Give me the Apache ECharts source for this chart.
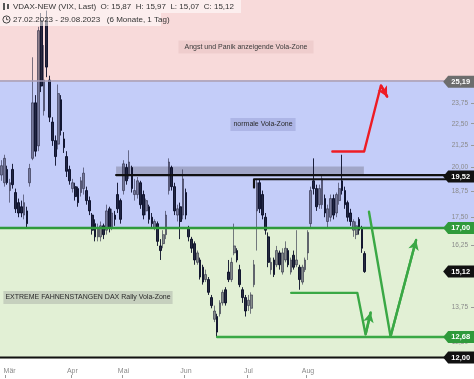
<!DOCTYPE html>
<html><head><meta charset="utf-8">
<script src="https://cdn.jsdelivr.net/npm/echarts@6/dist/echarts.min.js"></script>
<style>html,body{margin:0;padding:0;background:#fff}#c{width:474px;height:379px}</style>
</head><body><div id="c"></div>
<script>
// ---------- data ----------
const startDate = '2023-02-27';
const holidays = ['2023-04-07', '2023-04-10', '2023-05-01'];
const slotCount = 167;               // trading-day slots incl. empty future space
const monthNames = ['Jan','Feb','Mär','Apr','Mai','Jun','Jul','Aug','Sep','Okt','Nov','Dez'];

// [open, close, low, high]
const ohlc = [
 [19.6,20.1,19.3,20.4],[19.2,20.5,19.0,20.7],[19.9,19.2,19.1,20.1],[18.8,19.2,18.2,19.4],
 [19.9,19.1,18.9,20.2],[18.7,17.9,17.7,18.9],[18.2,17.7,17.5,18.4],[18.0,17.7,17.5,18.3],
 [17.6,18.2,17.4,18.6],[17.8,17.2,17.0,18.0],[19.2,19.95,19.0,20.2],[20.5,23.8,20.4,26.9],
 [23.8,20.9,20.6,24.3],[21.2,28.9,20.9,29.2],[29.7,24.9,24.5,30.3],[23.3,25.3,23.0,27.8],
 [29.7,26.2,25.5,30.5],[25.3,22.9,22.6,25.6],[22.6,21.5,21.2,22.9],[21.5,20.6,20.1,21.8],
 [21.3,24.4,21.0,25.0],[24.0,22.1,21.8,24.3],[21.6,21.1,20.8,22.0],[20.6,19.8,19.5,20.9],
 [19.9,19.3,19.1,20.1],[18.9,19.2,18.7,19.4],[19.0,18.5,18.3,19.2],[18.9,18.2,18.0,19.0],
 [18.7,19.3,18.5,19.5],[18.9,19.7,18.6,20.0],[18.8,18.3,18.1,19.0],[18.3,17.8,17.6,18.5],
 [17.6,16.9,16.7,17.7],[17.2,16.6,16.4,17.4],[16.6,17.0,16.4,17.2],[16.6,17.1,16.4,17.3],
 [17.1,16.7,16.5,17.2],[16.9,17.8,16.7,18.1],[17.9,17.0,16.8,18.0],[17.0,17.7,16.9,17.9],
 [17.6,17.4,17.1,17.8],[18.6,17.9,17.7,19.2],[18.3,17.4,17.2,18.4],[18.8,20.2,18.6,20.4],
 [20.0,19.3,19.1,20.2],[19.6,20.3,19.4,20.95],[20.0,18.9,18.7,20.1],[18.6,18.8,18.3,19.4],
 [18.6,19.3,18.4,19.5],[19.2,18.1,17.9,19.3],[18.6,17.6,17.4,18.8],[17.8,18.3,17.6,18.4],
 [18.0,17.4,17.2,18.1],[17.5,17.2,17.0,17.7],[17.0,17.3,16.9,17.4],[17.2,16.4,16.2,17.3],
 [16.2,16.0,15.6,16.5],[16.3,16.7,16.1,16.9],[16.7,17.6,16.5,17.8],[18.8,20.3,18.6,20.5],
 [20.0,19.0,18.8,20.1],[19.0,17.8,17.6,19.2],[17.6,17.9,17.3,18.1],[18.0,17.3,16.5,18.2],
 [17.6,19.4,17.4,19.9],[18.7,17.6,17.4,18.9],[17.0,16.6,16.4,17.1],[16.5,16.1,15.9,16.6],
 [16.3,15.6,15.4,16.4],[15.5,15.9,15.4,16.0],[15.6,14.9,14.8,15.7],[15.3,14.7,14.6,15.4],
 [14.8,15.0,14.7,15.2],[14.8,14.3,14.2,14.9],[14.1,13.8,13.7,14.2],[13.3,13.6,13.2,13.8],
 [13.4,12.85,12.68,13.5],[13.5,13.9,13.4,14.0],[13.9,14.3,13.8,14.4],[14.4,13.9,13.8,14.5],
 [15.1,14.8,14.7,15.6],[14.8,15.5,14.7,15.7],[15.9,16.2,15.8,17.2],[16.0,15.6,15.5,16.1],
 [15.2,14.6,14.5,15.4],[14.4,14.1,13.9,14.5],[14.1,13.6,13.4,14.2],[13.8,14.0,13.6,14.2],
 [13.7,14.2,13.5,14.3],[14.6,15.4,14.5,15.6],[17.8,19.2,16.0,19.4],[19.2,17.9,17.7,19.4],
 [18.6,17.6,17.4,18.8],[17.5,16.9,16.7,17.7],[16.6,15.5,15.3,16.8],[15.2,15.5,15.0,15.7],
 [15.6,15.0,14.9,15.7],[15.4,16.0,15.3,16.2],[15.9,15.4,15.2,16.0],[15.1,15.9,15.0,16.1],
 [15.6,16.1,15.5,16.4],[16.0,15.4,15.3,16.1],[15.1,15.6,15.0,15.7],[15.8,15.3,15.2,16.0],
 [15.4,15.6,15.3,16.9],[15.3,14.8,14.4,15.4],[14.7,15.3,14.6,15.4],[15.2,15.6,15.1,15.7],
 [15.9,16.8,15.6,16.9],[17.2,18.8,17.0,19.0],[19.3,18.9,18.6,20.5],[18.9,18.0,17.8,19.1],
 [18.1,18.9,17.9,19.1],[18.1,19.4,17.9,19.6],[18.4,17.7,17.5,18.6],[17.3,17.9,17.0,18.1],
 [17.5,18.4,17.3,18.6],[18.4,17.6,17.4,18.6],[17.7,18.6,17.5,18.7],[18.3,18.9,18.1,19.2],
 [19.3,18.8,18.6,20.7],[18.8,18.1,17.9,19.0],[18.2,17.5,17.3,18.3],[17.7,17.3,17.1,17.9],
 [16.9,17.3,16.6,17.4],[16.7,17.1,16.5,17.3],[17.4,16.9,16.7,17.5],[17.0,16.1,15.9,17.1],
 [15.87,15.12,15.07,15.97]
];

// log-scaled value axis range and tick labels
const yMin = 11.97, yMax = 31.38;
const yTicks = [12.5, 13.75, 16.25, 17.5, 18.75, 20, 21.25, 22.5, 23.75];

// zones
const panicFloor = 25.19;
const normalFloor = 17.0;
const grayBand = [[40.4, 19.60], [127.7, 20.05]];

// annotation paths: [slot index, value]
const blackLineA = [[40.4, 19.60], [166.5, 19.60]];
const blackLineB = [[89.0, 18.95], [89.0, 19.38], [166.5, 19.38]];
const blackLine12 = [[-0.5, 12.0], [166.5, 12.0]];
const greenLine17 = [[-0.5, 17.0], [166.5, 17.0]];
const greenLine1268 = [[76.0, 12.68], [166.5, 12.68]];
const greenSmallPath = [[102.1, 14.28], [125.4, 14.28], [128.3, 12.77], [130.1, 13.55]];
const greenVPath = [[129.5, 17.76], [137.1, 12.70], [146.1, 16.46]];
const redPath = [[116.6, 20.88], [127.8, 20.88], [133.7, 24.94], [135.9, 24.2]];

// price tags on the right
const tagValues = [25.19, 19.52, 17.00, 15.12, 12.68, 12.00];
const tagColors = ['#6d6d6d', '#111111', '#2f9a3b', '#111111', '#2f9a3b', '#111111'];

// ---------- build ----------
const L = Math.log;
const fmt = v => v.toFixed(2).replace('.', ',');

function tradingDays(start, count, skip) {
  const out = [];
  const d = new Date(start + 'T12:00:00Z');
  while (out.length < count) {
    const wd = d.getUTCDay();
    const iso = d.toISOString().slice(0, 10);
    if (wd !== 0 && wd !== 6 && skip.indexOf(iso) < 0) out.push(iso);
    d.setUTCDate(d.getUTCDate() + 1);
  }
  return out;
}
const dates = tradingDays(startDate, slotCount, holidays);
const monthStart = dates.map((d, i) => i > 0 && i < ohlc.length && d.slice(5, 7) !== dates[i - 1].slice(5, 7));
const firstMonthIdx = monthStart.indexOf(true);

const candleData = ohlc.map(r => r.map(v => L(v)));

function pathSeries(name, pts, color, width, arrow) {
  const d = pts.map(p => [p[0], L(p[1])]);
  const s = {
    type: 'line', name, xAxisIndex: 1, yAxisIndex: 0, data: d, symbol: 'none',
    silent: true, z: 4, animation: false, clip: false,
    lineStyle: { color, width, cap: 'round', join: 'round' }
  };
  if (arrow) {
    const a = d[d.length - 2], b = d[d.length - 1];
    s.markLine = {
      silent: true, animation: false, symbol: ['none', 'arrow'], symbolSize: [8, 10],
      label: { show: false }, lineStyle: { color, width, type: 'solid' },
      data: [[{ coord: a }, { coord: b }]]
    };
  }
  return s;
}

const last = ohlc[ohlc.length - 1];
const headerLine1 = 'VDAX-NEW (VIX, Last)  O: ' + fmt(last[0]) + '  H: ' + fmt(last[3]) +
  '  L: ' + fmt(last[2]) + '  C: ' + fmt(last[1]);
const fmtDate = s => s.slice(8, 10) + '.' + s.slice(5, 7) + '.' + s.slice(0, 4);
const headerLine2 = fmtDate(dates[0]) + ' - ' + fmtDate(dates[ohlc.length - 1]) + '   (6 Monate, 1 Tag)';

const FONT = '"Liberation Sans", Arial, sans-serif';
const chart = echarts.init(document.getElementById('c'), null, { renderer: 'canvas' });
chart.setOption({
  animation: false,
  backgroundColor: '#ffffff',
  grid: { left: -4, right: 0, top: 0, bottom: 20.5 },
  xAxis: [
    {
      type: 'category', data: dates, boundaryGap: true,
      axisLine: { show: false, onZero: false }, axisTick: { show: false }, splitLine: { show: false },
      axisLabel: {
        interval: (i) => monthStart[i], margin: 9, color: '#8a8a8a', fontSize: 7, fontFamily: FONT,
        formatter: (v, i) => {
          const name = monthNames[parseInt(v.slice(5, 7), 10) - 1];
          return i === firstMonthIdx ? '{f|' + name + '}' : name;
        },
        rich: { f: { padding: [0, 0, 0, 5], fontSize: 7, color: '#8a8a8a', fontFamily: FONT } }
      }
    },
    {
      type: 'value', min: -0.5, max: slotCount - 0.5, show: false
    },
    {
      type: 'category', data: dates, boundaryGap: true, offset: 16.5, position: 'bottom',
      axisLine: { show: false, onZero: false }, axisLabel: { show: false }, splitLine: { show: false },
      axisTick: { show: true, length: 3, interval: (i) => monthStart[i], lineStyle: { color: '#9a9a9a' } }
    }
  ],
  yAxis: {
    type: 'value', position: 'right', min: L(yMin), max: L(yMax), z: 3,
    splitLine: { show: false }, axisLine: { show: false, onZero: false },
    axisTick: { show: true, inside: true, length: 3, customValues: yTicks.map(L), lineStyle: { color: '#9a9a9a' } },
    axisLabel: {
      inside: true, margin: 6, customValues: yTicks.map(L), color: '#8a8a8a', fontSize: 6.5, fontFamily: FONT,
      formatter: v => fmt(Math.exp(v))
    }
  },
  series: [
    {
      type: 'line', name: 'zones', xAxisIndex: 1, data: [], silent: true, z: 1,
      markArea: {
        silent: true,
        data: [
          [{ yAxis: L(panicFloor), itemStyle: { color: '#f8dada' } }, { yAxis: L(yMax) }],
          [{ yAxis: L(normalFloor), itemStyle: { color: '#c4cdf9' } }, { yAxis: L(panicFloor) }],
          [{ yAxis: L(yMin), itemStyle: { color: '#e2f0d5' } }, { yAxis: L(normalFloor) }],
          [{ coord: [grayBand[0][0], L(grayBand[0][1])], itemStyle: { color: 'rgba(120,120,140,0.45)' } },
           { coord: [grayBand[1][0], L(grayBand[1][1])] }]
        ]
      },
      markLine: {
        silent: true, symbol: ['none', 'none'], label: { show: false },
        lineStyle: { color: '#9f99b6', width: 1.5, type: 'solid' },
        data: [{ yAxis: L(panicFloor) }]
      }
    },
    {
      type: 'candlestick', name: 'VDAX-NEW', xAxisIndex: 0, data: candleData, z: 3,
      barWidth: 2.2, silent: true,
      itemStyle: {
        color: 'rgba(40,40,65,0.5)', color0: 'rgba(5,8,35,0.85)',
        borderColor: 'rgba(40,40,65,0.6)', borderColor0: 'rgba(5,8,35,0.88)', borderWidth: 1
      }
    },
    pathSeries('band top', blackLineA, '#111', 2.2, false),
    pathSeries('line B', blackLineB, '#111', 2.2, false),
    pathSeries('12', blackLine12, '#111', 2, false),
    pathSeries('17', greenLine17, '#2f9a3b', 2.6, false),
    pathSeries('12.68', greenLine1268, '#3aa845', 2.4, false),
    pathSeries('small', greenSmallPath, '#3aa845', 2.4, true),
    pathSeries('V', greenVPath, '#3aa845', 2.4, true),
    pathSeries('red', redPath, '#ee1c24', 2.4, true),
    {
      type: 'line', name: 'tags', xAxisIndex: 1, data: [], silent: true, z: 6,
      markPoint: {
        silent: true, animation: false,
        symbol: 'path://M0,6L5,0L31,0L31,12L5,12Z', symbolSize: [31, 12], symbolKeepAspect: false,
        label: {
          show: true, position: 'inside', offset: [2, 0], color: '#fff', fontSize: 7.5, fontWeight: 'bold',
          fontFamily: FONT, formatter: p => fmt(p.data.value)
        },
        data: tagValues.map((v, i) => ({ coord: [161.1, L(v)], value: v, itemStyle: { color: tagColors[i] } }))
      }
    }
  ],
  graphic: [
    { type: 'rect', left: 0, top: 0, shape: { width: 241, height: 13 }, style: { fill: 'rgba(255,255,255,0.55)' }, z: 10 },
    { type: 'rect', left: 0, top: 13, shape: { width: 161, height: 13 }, style: { fill: 'rgba(255,255,255,0.55)' }, z: 10 },
    // candle icon
    { type: 'rect', left: 3, top: 3, shape: { width: 2, height: 7 }, style: { fill: '#555' }, z: 11 },
    { type: 'rect', left: 7, top: 4, shape: { width: 2, height: 5 }, style: { fill: '#555' }, z: 11 },
    // clock icon
    { type: 'circle', shape: { cx: 6.5, cy: 19.5, r: 3.6 }, style: { fill: 'none', stroke: '#444', lineWidth: 1 }, z: 11 },
    { type: 'polyline', shape: { points: [[6.5, 17.2], [6.5, 19.7], [8.3, 19.7]] }, style: { fill: 'none', stroke: '#444', lineWidth: 0.9 }, z: 11 },
    { type: 'text', x: 13, y: 6.7, z: 11, style: { text: headerLine1, font: '8px ' + FONT, fill: '#333', verticalAlign: 'middle' } },
    { type: 'text', x: 13, y: 19.7, z: 11, style: { text: headerLine2, font: '8px ' + FONT, fill: '#333', verticalAlign: 'middle' } },
    { type: 'text', x: 246, y: 47, z: 11, style: { text: 'Angst und Panik anzeigende Vola-Zone', font: '7px ' + FONT, fill: '#3a3a3a', align: 'center', verticalAlign: 'middle', backgroundColor: '#efcdcd', padding: [3, 6, 3, 6] } },
    { type: 'text', x: 263, y: 124.5, z: 11, style: { text: 'normale Vola-Zone', font: '7px ' + FONT, fill: '#2a2a2a', align: 'center', verticalAlign: 'middle', backgroundColor: '#adb5e6', padding: [3, 3, 3, 3] } },
    { type: 'text', x: 88, y: 297.5, z: 11, style: { text: 'EXTREME FAHNENSTANGEN DAX Rally Vola-Zone', font: '7px ' + FONT, fill: '#2a2a2a', align: 'center', verticalAlign: 'middle', backgroundColor: '#c6d0be', padding: [3, 2, 3, 2] } }
  ]
});
</script>
</body></html>
